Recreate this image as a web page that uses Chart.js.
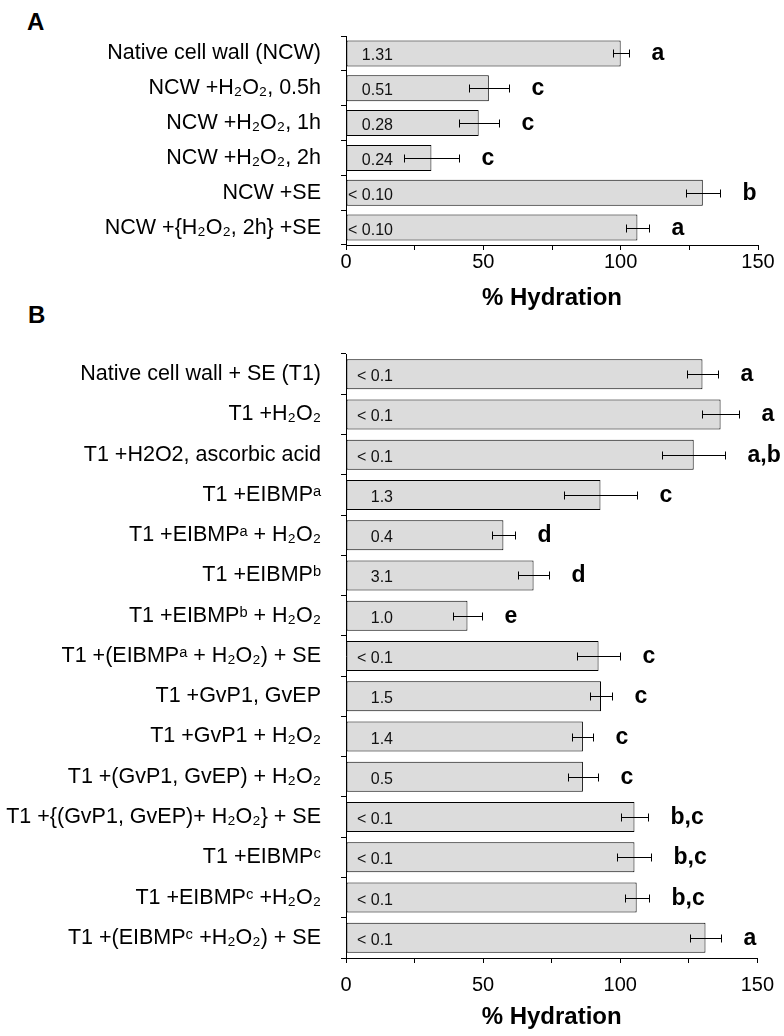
<!DOCTYPE html>
<html>
<head>
<meta charset="utf-8">
<script src="https://cdn.jsdelivr.net/npm/chart.js@4.4.0/dist/chart.umd.min.js"></script>
<style>
  body { margin: 0; background: #fff; width: 784px; height: 1036px; position: relative; overflow: hidden;
         font-family: "Liberation Sans", Arial, sans-serif; }
  canvas { position: absolute; left: 0; }
  .tag { position: absolute; font-weight: bold; font-size: 24px; line-height: 1; }
</style>
</head>
<body>
<div class="tag" style="left:27px;top:10px">A</div>
<div class="tag" style="left:28px;top:303px">B</div>
<canvas id="chartA" width="784" height="315" style="top:0"></canvas>
<canvas id="chartB" width="784" height="736" style="top:300px"></canvas>

<script>
// ---- panel A data ----
const labelsA = [
  "Native cell wall (NCW)",
  "NCW +H₂O₂, 0.5h",
  "NCW +H₂O₂, 1h",
  "NCW +H₂O₂, 2h",
  "NCW +SE",
  "NCW +{H₂O₂, 2h} +SE"
];
const hydrationA = [100.0, 52.0, 48.3, 31.1, 129.9, 106.1];
const errorA = [2.9, 7.3, 7.3, 10.0, 6.1, 4.2];
const insideA = ["1.31", "0.51", "0.28", "0.24", "< 0.10", "< 0.10"];
const lettersA = ["a", "c", "c", "c", "b", "a"];

// ---- panel B data ----
const labelsB = [
  "Native cell wall + SE (T1)",
  "T1 +H₂O₂",
  "T1 +H2O2, ascorbic acid",
  "T1 +EIBMPᵃ",
  "T1 +EIBMPᵃ + H₂O₂",
  "T1 +EIBMPᵇ",
  "T1 +EIBMPᵇ + H₂O₂",
  "T1 +(EIBMPᵃ + H₂O₂) + SE",
  "T1 +GvP1, GvEP",
  "T1 +GvP1 + H₂O₂",
  "T1 +(GvP1, GvEP) + H₂O₂",
  "T1 +{(GvP1, GvEP)+ H₂O₂} + SE",
  "T1 +EIBMPᶜ",
  "T1 +EIBMPᶜ +H₂O₂",
  "T1 +(EIBMPᶜ +H₂O₂) + SE"
];
const hydrationB = [130.0, 136.6, 126.8, 92.8, 57.4, 68.4, 44.3, 92.1, 93.0, 86.4, 86.4, 105.2, 105.2, 106.0, 131.1];
const errorB = [5.5, 6.9, 11.4, 13.4, 4.1, 5.6, 5.4, 8.0, 4.0, 3.8, 5.5, 4.8, 6.2, 4.4, 5.5];
const insideB = ["< 0.1", "< 0.1", "< 0.1", "1.3", "0.4", "3.1", "1.0", "< 0.1", "1.5", "1.4", "0.5", "< 0.1", "< 0.1", "< 0.1", "< 0.1"];
const lettersB = ["a", "a", "a,b", "c", "d", "d", "e", "c", "c", "c", "c", "b,c", "b,c", "b,c", "a"];

const xTicks = [0, 50, 100, 150];
const FONT = '"Liberation Sans", Arial, sans-serif';

// error bars, numbers inside the bars and the letters
const extras = {
  id: 'extras',
  afterDatasetsDraw(chart, args, opts) {
    const { ctx } = chart;
    const x = chart.scales.x, y = chart.scales.y;
    const vals = chart.data.datasets[0].data;
    ctx.save();
    vals.forEach((v, i) => {
      const yc = Math.round(y.getPixelForValue(i)) + 0.5;
      const x1 = Math.round(x.getPixelForValue(v - opts.err[i])) + 0.5;
      const x2 = Math.round(x.getPixelForValue(v + opts.err[i])) + 0.5;
      ctx.strokeStyle = '#000';
      ctx.lineWidth = 1;
      ctx.beginPath();
      ctx.moveTo(x1, yc); ctx.lineTo(x2, yc);
      ctx.moveTo(x1, yc - 4); ctx.lineTo(x1, yc + 4);
      ctx.moveTo(x2, yc - 4); ctx.lineTo(x2, yc + 4);
      ctx.stroke();

      ctx.fillStyle = '#111';
      ctx.font = '16px ' + FONT;
      ctx.textAlign = 'right';
      ctx.textBaseline = 'alphabetic';
      ctx.fillText(opts.inside[i], x.getPixelForValue(0) + 47, yc + 6);

      ctx.fillStyle = '#000';
      ctx.font = 'bold 23px ' + FONT;
      ctx.textAlign = 'left';
      ctx.fillText(opts.letters[i], x2 + 22, yc + 6);
    });
    ctx.restore();
  }
};

function makeChart(id, labels, values, err, inside, letters, g) {
  return new Chart(document.getElementById(id), {
    type: 'bar',
    data: {
      labels: labels,
      datasets: [{
        data: values,
        backgroundColor: '#dcdcdc',
        borderColor: '#000',
        borderWidth: 1,
        borderSkipped: false,
        barPercentage: 0.745,
        categoryPercentage: 1.0
      }]
    },
    options: {
      indexAxis: 'y',
      responsive: false,
      animation: false,
      devicePixelRatio: 1,
      layout: { padding: { top: g.top, right: 26, bottom: 0, left: 0 } },
      plugins: {
        legend: { display: false },
        tooltip: { enabled: false },
        extras: { err: err, inside: inside, letters: letters }
      },
      scales: {
        y: {
          afterFit: (s) => { s.width = 346; },
          grid: { display: true, drawOnChartArea: false, offset: true, tickLength: 5, color: '#000' },
          border: { display: true, color: '#000', width: 1 },
          ticks: { color: '#000', padding: 20, font: { family: FONT, size: 21.5 } }
        },
        x: {
          min: 0,
          max: 150,
          afterFit: (s) => { s.height = g.axisH; },
          grid: { display: true, drawOnChartArea: false, tickLength: 5, color: '#000' },
          border: { display: true, color: '#000', width: 1 },
          ticks: {
            stepSize: 25,
            padding: g.tickPad,
            color: '#000',
            font: { family: FONT, size: 20 },
            callback: (v) => xTicks.includes(v) ? String(v) : ''
          },
          title: {
            display: true,
            text: '% Hydration',
            color: '#000',
            font: { family: FONT, size: 24, weight: 'bold' },
            padding: { top: 0, bottom: g.titlePad }
          }
        }
      }
    },
    plugins: [extras]
  });
}

makeChart('chartA', labelsA, hydrationA, errorA, insideA, lettersA, { top: 36, axisH: 70, tickPad: 0, titlePad: 2.6 });
makeChart('chartB', labelsB, hydrationB, errorB, insideB, lettersB, { top: 54, axisH: 78, tickPad: 10, titlePad: 4.6 });
</script>
</body>
</html>
